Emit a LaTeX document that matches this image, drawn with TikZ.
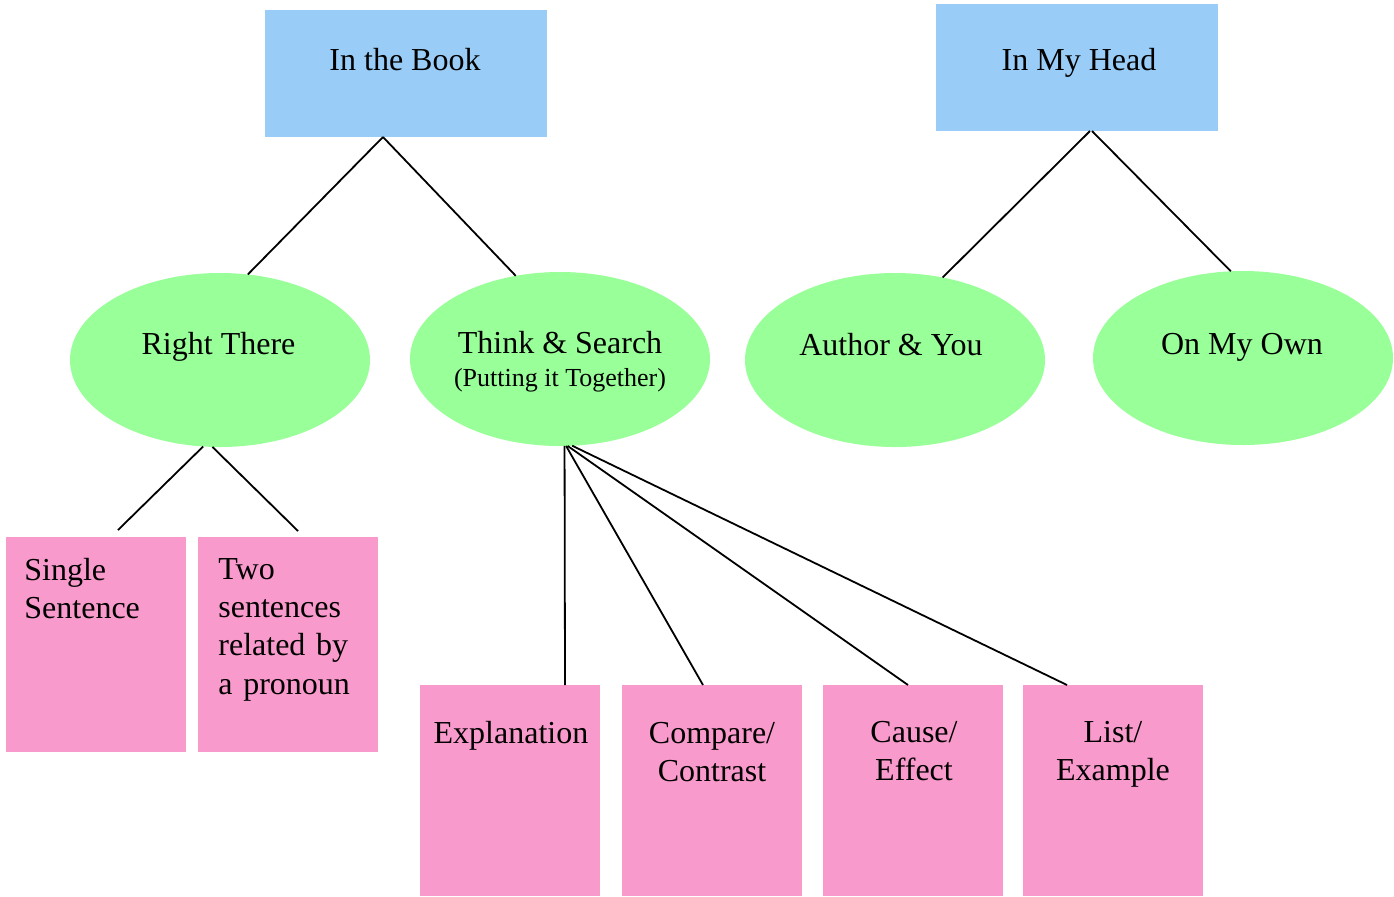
\documentclass[tikz,border=0pt]{standalone}
\usepackage{fontspec}
\setmainfont{Liberation Serif}
\usetikzlibrary{shapes.geometric, positioning}
\definecolor{sourceblue}{HTML}{99CCF7}
\definecolor{qagreen}{HTML}{99FF99}
\definecolor{cluepink}{HTML}{F99ACC}

\begin{document}
\begin{tikzpicture}[x=0.5pt, y=-0.5pt,
	source/.style={rectangle, fill=sourceblue, minimum width=141pt, minimum height=63.5pt, inner sep=0pt, outer sep=0pt},
	qa/.style={ellipse, fill=qagreen, minimum width=150pt, minimum height=87pt, inner sep=0pt, outer sep=0pt},
	clue/.style={rectangle, fill=cluepink, minimum width=90pt, minimum height=107.5pt, inner sep=0pt, outer sep=0pt},
	task/.style={clue, minimum height=105.5pt},
	words/.style={font=\fontsize{16}{19.2}\selectfont, inner sep=0pt, anchor=base},
	small/.style={font=\fontsize{13}{15.6}\selectfont, inner sep=0pt, anchor=base},
	link/.style={line width=0.9pt}]
			      \useasboundingbox (0,0) rectangle (1394,896);

			      \node (book) [source] at (406,73.5) {};
			      \node (head) [source] at (1077,67.5) {};
			      \node (right) [qa] at (220,360) {};
			      \node (think) [qa] at (560,359) {};
			      \node (author) [qa] at (895,360) {};
			      \node (own) [qa] at (1243,358) {};
			      \node (single) [clue] at (96,644.5) {};
			      \node (two) [clue, right = 6pt of single] {};
			      \node (expl) [task] at (510,790.5) {};
			      \node (comp) [task, right = 11pt of expl] {};
			      \node (cause) [task, right = 10.5pt of comp] {};
			      \node (list) [task, right = 10pt of cause] {};

			      \node (book-l) [words] at (405,70) {In the Book};
			      \node (head-l) [words] at (1079,70) {In My Head};
			      \node (right-l) [words] at (218.5,354) {Right There};
			      \node (think-l) [words] at (560,353) {Think \& Search};
			      \node (think-s) [small] at (560,386) {(Putting it Together)};
			      \node (author-l) [words] at (891,355) {Author \& You};
			      \node (own-l) [words] at (1242,354) {On My Own};
			      \node (single-l) [words, anchor=base west, text width=80pt, align=left] at (24,580) {Single\\Sentence};
			      \node (two-l) [words, anchor=base west, text width=80pt, align=left] at (218,579) {Two\\sentences\\related by\\a pronoun};
			      \node (expl-l) [words] at (511,743) {Explanation};
			      \node (comp-l) [words, text width=85pt, align=center] at (712,743) {Compare/\\Contrast};
			      \node (cause-l) [words, text width=85pt, align=center] at (914,742) {Cause/\\Effect};
			      \node (list-l) [words, text width=85pt, align=center] at (1113,742) {List/\\Example};

			      \path [link]
			      ([xshift=-11.5pt]book.south) edge (right.72)
			      ([xshift=-11.5pt]book.south) edge (think.118)
			      ([xshift=6.5pt]head.south) edge (author.60)
			      ([xshift=7.5pt]head.south) edge (own.98)
			      (right.259) edge ([xshift=11pt, yshift=3.5pt]single.north)
			      (right.265) edge ([xshift=5pt, yshift=3pt]two.north)
			      (think.273) edge ([xshift=27.5pt]expl.north)
			      (think.274) edge ([xshift=-4.5pt]comp.north)
			      (think.275) edge ([xshift=-2.5pt]cause.north)
			      (think.278) edge ([xshift=-23pt]list.north)
			      ;
		      \end{tikzpicture}
\end{document}
